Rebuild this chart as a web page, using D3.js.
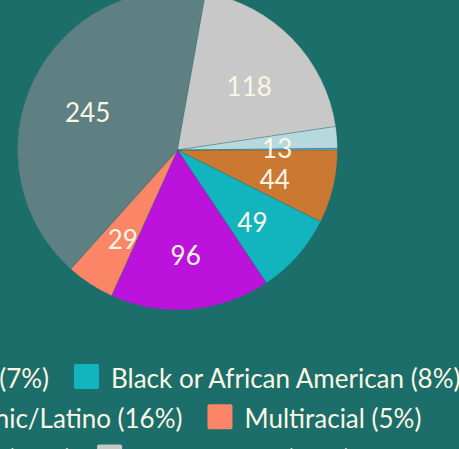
<!DOCTYPE html>
<html>
<head>
<meta charset="utf-8">
<script src="https://cdn.jsdelivr.net/npm/d3@7"></script>
<style>
  html, body { margin: 0; padding: 0; background: #1b6e69; overflow: hidden; }
  svg { display: block; }
  text { font-family: Lato, "Open Sans", sans-serif; }
</style>
</head>
<body>
<svg id="chart" width="459" height="449"></svg>
<script>
// ---- data ----
const categories = ["Asian", "Black or African American", "Hispanic/Latino", "Multiracial",
                    "White", "International", "Unknown", "American Indian or Alaska Native"];
const values = [44, 49, 96, 29, 245, 118, 13, 1];
const colors = ["#cb7832", "#12b4bd", "#bb12dc", "#fa8567",
                "#5f8083", "#c8c8c8", "#b7d8dc", "#6f9fd8"];

// ---- layout ----
const W = 459, H = 449;
const bg = "#1b6e69";
const textColor = "#fbf6e4";
const cx = 177.5, cy = 150, R = 160;
const labelR = 100, labelBaseline = 15.7;
const fontSize = 26;

const svg = d3.select("#chart");
svg.append("rect").attr("width", W).attr("height", H).attr("fill", bg);

const total = d3.sum(values);
const data = categories.map((c, i) => ({ name: c, value: values[i], color: colors[i] }));

const pie = d3.pie().sort(null).value(d => d.value)
  .startAngle(Math.PI / 2).endAngle(Math.PI / 2 + 2 * Math.PI);
const arcs = pie(data);
const arc = d3.arc().innerRadius(0).outerRadius(R);
const labelArc = d3.arc().innerRadius(labelR).outerRadius(labelR);

const g = svg.append("g").attr("transform", `translate(${cx},${cy})`);
g.selectAll("path.slice").data(arcs).join("path")
  .attr("class", "slice")
  .attr("d", arc)
  .attr("fill", d => d.data.color)
  .attr("stroke", bg)
  .attr("stroke-width", 0.5)
  .attr("stroke-opacity", 0.6);

g.selectAll("text.lbl").data(arcs.filter(d => d.data.value / total >= 0.01)).join("text")
  .attr("class", "lbl")
  .attr("x", d => labelArc.centroid(d)[0])
  .attr("y", d => labelArc.centroid(d)[1] + labelBaseline)
  .attr("text-anchor", "middle")
  .attr("fill", textColor)
  .attr("font-size", fontSize)
  .text(d => d.data.value);

// ---- legend ----
const legendX0 = -107, legendWidth = 600, firstRowTop = 364, rowH = 40.2;
const sq = 25, sqGap = 12, itemGap = 25, textBaseline = 24.2;
const legend = svg.append("g");
const items = data.map(d => ({ ...d, label: `${d.name} (${Math.round(d.value / total * 100)}%)` }));

// measure
const meas = legend.append("text").attr("font-size", fontSize);
items.forEach(it => { meas.text(it.label); it.tw = meas.node().getComputedTextLength(); });
meas.remove();

let x = legendX0, row = 0;
items.forEach(it => {
  const w = sq + sqGap + it.tw;
  if (x > legendX0 && x + w > legendX0 + legendWidth) { row++; x = legendX0; }
  it.x = x; it.row = row;
  x += w + itemGap;
});

const ig = legend.selectAll("g.item").data(items).join("g")
  .attr("class", "item")
  .attr("transform", d => `translate(${d.x},${firstRowTop + d.row * rowH})`);
ig.append("rect").attr("width", sq).attr("height", sq).attr("rx", 2)
  .attr("fill", d => d.color);
ig.append("text")
  .attr("x", sq + sqGap).attr("y", textBaseline)
  .attr("font-size", fontSize)
  .attr("fill", textColor)
  .text(d => d.label);
</script>
</body>
</html>
